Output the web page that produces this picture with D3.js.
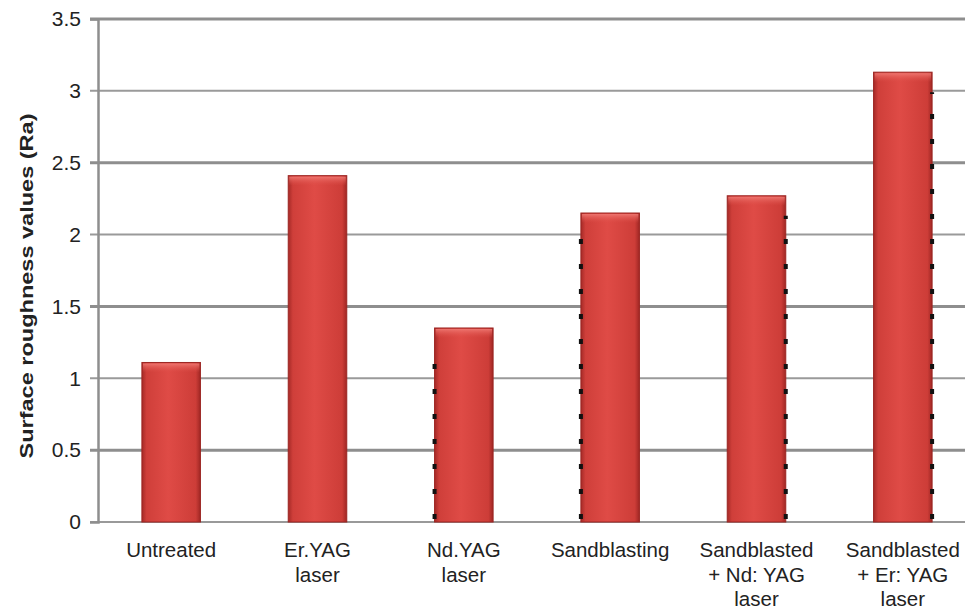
<!DOCTYPE html>
<html>
<head>
<meta charset="utf-8">
<script src="https://cdn.jsdelivr.net/npm/d3@7"></script>
<style>
  body { margin: 0; background: #fff; }
  text { font-family: "Liberation Sans", Arial, sans-serif; fill: #222; }
</style>
</head>
<body>
<svg id="chart" width="969" height="609"></svg>
<script>
'use strict';

// categories, each label split into lines
var categories = ['Untreated', 'Er.YAG laser', 'Nd.YAG laser', 'Sandblasting',
                  'Sandblasted + Nd: YAG laser', 'Sandblasted + Er: YAG laser']
  , labelLines = [['Untreated'], ['Er.YAG', 'laser'], ['Nd.YAG', 'laser'], ['Sandblasting'],
                  ['Sandblasted', '+ Nd: YAG', 'laser'], ['Sandblasted', '+ Er: YAG', 'laser']]
  , roughness = [1.11, 2.41, 1.35, 2.15, 2.27, 3.13]
  , yTicks = [0, 0.5, 1, 1.5, 2, 2.5, 3, 3.5]
  // stray dark marks along one side of some bars in the original scan
  , markSide = [null, null, 'left', 'left', 'right', 'right']

var svg = d3.select('#chart')
  , m = { left: 98, right: 976, top: 19, bottom: 522 }

var x = d3.scaleBand()
  .domain(categories)
  .range([m.left, m.right])
  .paddingInner(0.6)
  .paddingOuter(0.3)

var y = d3.scaleLinear()
  .domain([0, 3.5])
  .range([m.bottom, m.top])

var rows = roughness.map(function(v, i){
  return { cat: categories[i], value: v, side: markSide[i] };
})

var defs = svg.append('defs')
var grad = defs.append('linearGradient').attr('id', 'barfill')
grad.append('stop').attr('offset', '0%').attr('stop-color', '#a52a27')
grad.append('stop').attr('offset', '8%').attr('stop-color', '#cf3f3a')
grad.append('stop').attr('offset', '45%').attr('stop-color', '#df4b46')
grad.append('stop').attr('offset', '92%').attr('stop-color', '#cd3d38')
grad.append('stop').attr('offset', '100%').attr('stop-color', '#a02724')

var topGrad = defs.append('linearGradient').attr('id', 'bartop')
  .attr('x1', 0).attr('x2', 0).attr('y1', 0).attr('y2', 1)
topGrad.append('stop').attr('offset', '0%').attr('stop-color', '#f07a74').attr('stop-opacity', 0.9)
topGrad.append('stop').attr('offset', '100%').attr('stop-color', '#e0504a').attr('stop-opacity', 0)

// grid lines, every other one heavier
svg.append('g')
  .selectAll('line')
  .data(yTicks.filter(function(d){ return d > 0; }))
  .enter().append('line')
    .attr('x1', m.left - 8)
    .attr('x2', 965)
    .attr('y1', function(d){ return y(d); })
    .attr('y2', function(d){ return y(d); })
    .attr('stroke', function(d){ return (d * 2) % 2 ? '#8e8e8e' : '#9a9a9a'; })
    .attr('stroke-width', function(d){ return (d * 2) % 2 ? 3 : 2; })

// baseline
svg.append('line')
  .attr('x1', m.left - 8).attr('x2', 965)
  .attr('y1', m.bottom).attr('y2', m.bottom)
  .attr('stroke', '#999').attr('stroke-width', 2)

// y axis
var yAxis = svg.append('g')
  .attr('transform', 'translate(' + m.left + ',0)')
  .call(d3.axisLeft(y).tickValues(yTicks).tickSize(8).tickPadding(9)
          .tickFormat(function(d){ return String(d); }))
yAxis.select('.domain').attr('stroke', '#8e8e8e').attr('stroke-width', 2.5)
yAxis.selectAll('.tick line').attr('stroke', 'none')
yAxis.selectAll('.tick text')
  .attr('font-size', 21)
  .attr('fill', '#222')
  .style('font-family', '"Liberation Sans", Arial, sans-serif')

// bars
var bars = svg.append('g').selectAll('g')
  .data(rows)
  .enter().append('g')

bars.append('rect')
  .attr('x', function(d){ return x(d.cat); })
  .attr('y', function(d){ return y(d.value); })
  .attr('width', x.bandwidth())
  .attr('height', function(d){ return y(0) - y(d.value); })
  .attr('fill', 'url(#barfill)')
  .attr('stroke', '#9c2522')
  .attr('stroke-width', 1)

bars.append('rect')
  .attr('x', function(d){ return x(d.cat) + 1; })
  .attr('y', function(d){ return y(d.value) + 1; })
  .attr('width', x.bandwidth() - 2)
  .attr('height', 9)
  .attr('fill', 'url(#bartop)')

// dotted edge marks
function edgeX(d){
  return d.side === 'left' ? x(d.cat) : x(d.cat) + x.bandwidth();
}

bars.filter(function(d){ return d.side; })
  .append('line')
    .attr('x1', edgeX)
    .attr('x2', edgeX)
    .attr('y1', m.bottom - 3)
    .attr('y2', function(d){ return y(d.value) + 20; })
    .attr('stroke', '#111')
    .attr('stroke-width', 4)
    .attr('stroke-dasharray', '5,20')

// category labels
var labels = svg.append('g').selectAll('text')
  .data(rows)
  .enter().append('text')
    .attr('text-anchor', 'middle')
    .attr('font-size', 20.5)
    .attr('x', function(d){ return x(d.cat) + x.bandwidth() / 2; })
    .attr('y', 557)

labels.selectAll('tspan')
  .data(function(d, i){ return labelLines[i]; })
  .enter().append('tspan')
    .attr('x', function(){ return d3.select(this.parentNode).attr('x'); })
    .attr('dy', function(d, j){ return j ? 24.5 : 0; })
    .text(function(d){ return d; })

// y axis title
svg.append('text')
  .attr('transform', 'translate(33,286) rotate(-90)')
  .attr('text-anchor', 'middle')
  .attr('font-size', 19)
  .attr('font-weight', 'bold')
  .attr('textLength', 345)
  .attr('lengthAdjust', 'spacingAndGlyphs')
  .text('Surface roughness values (Ra)')
</script>
</body>
</html>
